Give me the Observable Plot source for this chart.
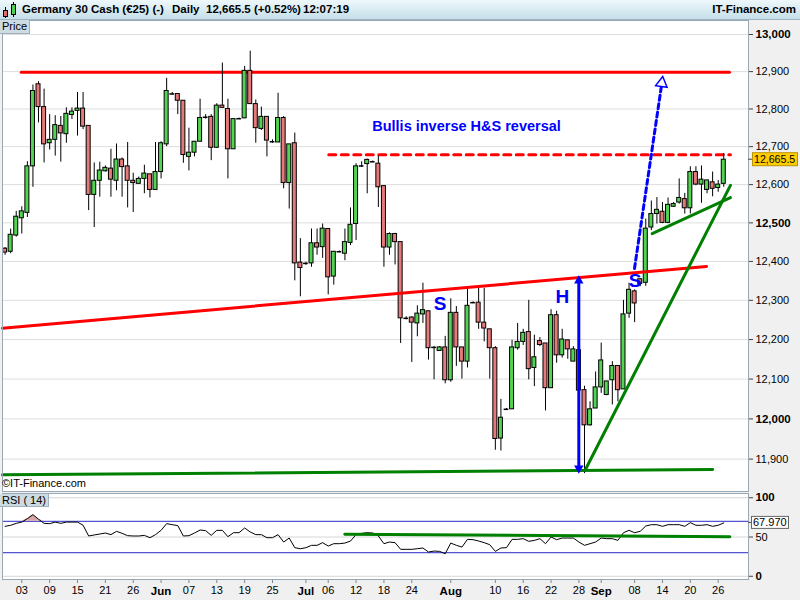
<!DOCTYPE html>
<html><head><meta charset="utf-8">
<script src="https://cdn.jsdelivr.net/npm/d3@7"></script>
<script src="https://cdn.jsdelivr.net/npm/@observablehq/plot@0.6"></script>
<style>
body{margin:0;background:#fff;font-family:"Liberation Sans",Arial,sans-serif;}
#wrap{position:relative;width:800px;height:600px;background:#f0f0f0;overflow:hidden;}
#title{position:absolute;left:0;top:0;width:800px;height:19px;background:linear-gradient(#eef8fb,#c6dfea);border-bottom:1px solid #9fb4c2;}
#title span{position:absolute;top:3px;font-size:11.5px;font-weight:bold;line-height:13px;white-space:nowrap;}
.lbl{position:absolute;left:0;background:#cddbe3;border-right:1px solid #9fb0bc;border-bottom:1px solid #9fb0bc;font-size:11px;line-height:13px;padding:0 2px;}
#copy{position:absolute;left:2px;top:477px;font-size:11px;line-height:12px;}
.panel{position:absolute;left:0;}
.panel svg{overflow:visible;}
</style></head>
<body>
<div id="wrap">
  <div id="title">
    <svg width="20" height="19" style="position:absolute;left:0;top:0">
      <line x1="5.5" y1="7" x2="5.5" y2="18" stroke="#000"/>
      <rect x="3.5" y="10.5" width="4" height="6" fill="#e06a6a" stroke="#000"/>
      <line x1="13.5" y1="2" x2="13.5" y2="17" stroke="#000"/>
      <rect x="11.5" y="4.5" width="4" height="10" fill="#4fd04f" stroke="#000"/>
    </svg>
    <span style="left:22px">Germany 30 Cash (€25) (-)</span>
    <span style="left:172px">Daily</span>
    <span style="left:206px">12,665.5 (+0.52%)</span>
    <span style="left:303px">12:07:19</span>
    <span style="right:4px">IT-Finance.com</span>
  </div>
  <div id="pricePanel" class="panel" style="top:20px"></div>
  <div class="lbl" style="top:20px;height:13px;">Price</div>
  <div id="copy">©IT-Finance.com</div>
  <div id="rsiPanel" class="panel" style="top:493px"></div>
  <div class="lbl" style="top:494px;height:12px;">RSI ( 14)</div>
</div>
<script>
// ---------- data ----------
const startDate = "2017-04-30";
const barCount = 130;
const dates = (() => { const out = []; let t = new Date(startDate + "T00:00:00Z").getTime();
  while (out.length < barCount) { const d = new Date(t); if (d.getUTCDay() !== 6) out.push(d.toISOString().slice(0,10)); t += 864e5; }
  return out; })();

const opens = [12433,12425,12467,12512,12526,12648,12866,12805,12709,12718,
12755,12733,12784,12795,12801,12755,12573,12610,12635,12642,
12610,12666,12648,12610,12602,12615,12627,12586,12633,12706,
12840,12840,12822,12673,12684,12713,12778,12779,12697,12809,
12800,12693,12774,12775,12902,12813,12747,12779,12713,12711,
12776,12604,12709,12397,12395,12395,12447,12437,12484,12361,
12425,12420,12448,12497,12649,12654,12660,12655,12596,12436,
12471,12450,12254,12256,12241,12264,12272,12180,12171,12180,
12097,12268,12180,12144,12294,12294,12243,12226,12178,11951,
12024,12024,12178,12194,12219,12128,12196,12190,12077,12262,
12160,12198,12144,12173,12072,11984,12026,12079,12060,12097,
12133,12074,12266,12323,12354,12345,12488,12523,12529,12500,
12542,12553,12562,12538,12633,12600,12586,12606,12591,12602];
const closes = [12423,12469,12516,12530,12648,12848,12805,12706,12718,12757,
12735,12787,12793,12801,12753,12573,12610,12637,12644,12613,
12666,12646,12610,12604,12615,12629,12586,12633,12709,12848,
12840,12822,12678,12684,12713,12776,12778,12697,12809,12803,
12693,12773,12774,12902,12813,12749,12779,12716,12713,12776,
12604,12706,12395,12383,12395,12447,12436,12485,12359,12425,
12425,12450,12495,12648,12649,12665,12660,12593,12436,12471,
12450,12254,12254,12243,12266,12275,12178,12180,12180,12097,
12268,12180,12144,12286,12294,12243,12228,12178,11950,12003,
12024,12180,12194,12217,12125,12155,12186,12077,12262,12160,
12200,12175,12175,12071,11984,12024,12079,12147,12094,12133,
12072,12264,12327,12292,12342,12485,12523,12534,12500,12547,
12549,12565,12538,12633,12600,12613,12611,12589,12600,12665.5];
const highs = [12436,12484,12530,12542,12660,12864,12873,12853,12785,12782,
12780,12803,12803,12844,12844,12755,12657,12659,12649,12693,
12707,12670,12711,12630,12620,12651,12627,12711,12713,12882,
12844,12840,12822,12749,12713,12826,12785,12785,12814,12923,
12826,12773,12776,12914,12955,12824,12805,12779,12718,12842,
12780,12706,12736,12459,12398,12484,12484,12497,12484,12425,
12427,12484,12539,12655,12660,12667,12662,12675,12596,12474,
12473,12450,12258,12258,12286,12344,12272,12182,12182,12208,
12304,12284,12180,12334,12296,12331,12331,12226,12182,12049,
12026,12198,12241,12226,12300,12211,12205,12190,12276,12272,
12226,12198,12182,12178,12082,12043,12118,12191,12094,12144,
12133,12300,12344,12327,12356,12510,12557,12566,12553,12565,
12553,12615,12577,12647,12647,12649,12611,12633,12611,12682];
const lows = [12416,12420,12463,12471,12514,12593,12763,12657,12691,12675,
12659,12709,12772,12728,12745,12532,12488,12567,12633,12567,
12584,12567,12539,12527,12602,12576,12565,12586,12615,12700,
12838,12785,12656,12636,12673,12713,12773,12663,12695,12803,
12615,12693,12772,12775,12813,12709,12743,12673,12709,12711,
12589,12536,12350,12309,12390,12385,12416,12408,12314,12339,
12423,12402,12441,12454,12645,12576,12658,12540,12385,12416,
12391,12190,12250,12142,12207,12241,12148,12098,12170,12088,
12092,12132,12100,12128,12292,12226,12194,12100,11922,11920,
12022,12024,12173,12185,12098,12081,12182,12020,12077,12140,
12153,12150,12144,12060,11864,11982,12026,12064,12058,12035,
12043,12074,12254,12243,12335,12336,12480,12497,12498,12498,
12540,12549,12523,12523,12597,12551,12576,12568,12580,12593];
const rsiValues = [63.6,64.9,67.4,69,73.4,78.5,72.6,67.4,67,69,
67.4,69,69,69,65,51.3,52.6,53.8,55.1,53,
57.2,54.7,51.7,51.3,51.3,52.1,49.1,53,58.5,67,
65.7,64.5,51.3,51.7,55.1,58.9,58.1,52.1,58.5,58.5,
50.4,55.5,55.5,61.5,56.4,53,53,49.1,49.1,53,
43.6,48.7,36.4,35.1,36.4,39.4,39.4,42.8,38.5,41.5,
41.5,42.3,44.9,53,54.7,55.5,55.1,51.3,41.5,43.6,
42.8,34.3,34.3,34.3,35.1,36,30.9,32.1,31.7,28.7,
42.3,39.4,37.2,47,46.6,44.9,42.8,40.2,31.7,36,
36.4,47,47,47.9,44.5,45.7,47.9,41.5,50,46.6,
48.7,48.7,48.7,43.6,39.4,41.5,43.6,48.7,47.9,47.9,
45.7,55.5,58.5,55.5,57.2,64,65.7,65.7,63.6,65.7,
65.7,65.7,63.6,68.3,64.9,64.9,65.7,63.6,64.9,67.97];

const priceTicks = [11900,12000,12100,12200,12300,12400,12500,12600,12700,12800,12900,13000];
const priceTicksBold = [12000,12500,13000];
const rsiTicks = [100,50,0];
const rsiTicksBold = [100,0];
const dayTicks = ["2017-05-03","2017-05-09","2017-05-15","2017-05-21","2017-05-26","2017-06-07","2017-06-13","2017-06-19","2017-06-25","2017-07-06","2017-07-12","2017-07-18","2017-07-24","2017-08-10","2017-08-16","2017-08-22","2017-08-28","2017-09-08","2017-09-14","2017-09-20","2017-09-26"];
const monthTicks = ["2017-06-01","2017-07-02","2017-08-01","2017-09-01"];

// annotation geometry in data units: [bar index, price]
const resistance = [[2.89,12898],[130.03,12898]];
const targetLevel = [[58.1,12678.5],[130.2,12678.5]];
const neckline = [[-0.465,12229],[125.9,12387]];
const support = [[-0.465,11861],[127.0,11874.5]];
const steepTrend = [[104.2,11875],[130.2,12598]];
const wedgeTrend = [[116.15,12472],[130.2,12566]];
const headHeight = [[102.98,12364],[102.98,11864]];
const targetPath = [[112.98,12382],[117.78,12858]];
const targetHead = [[117.88,12869]];
const rsiTrend = [[60.98,53.5],[130.1,50.3]];
const patternLabels = [[78.07,12291,"S"],[100.05,12308,"H"],[113.1,12349,"S"]];
const noteText = [[65.9,12753,"Bullis inverse H&S reversal"]];
const lastPrice = 12665.5;
const lastRsi = 67.97;

// ---------- build ----------
const idx = new Map(dates.map((d,i)=>[d,i]));
const candles = dates.map((d,i)=>({i, d, o:opens[i], h:highs[i], l:lows[i], c:closes[i]}));
const bodies = candles.filter(d=>d.o!==d.c);
const dojis = candles.filter(d=>d.o===d.c);
const rsiData = rsiValues.map((v,i)=>({i, v}));
const X = d=>d[0], Y = d=>d[1];
const xDomain = [-0.465, 133.44];
const font = "'Liberation Sans', Arial, sans-serif";
const GREEN = "#52d452", RED = "#e47a7a", BORDER = "#98a8b4";

const price = Plot.plot({
  width:800, height:471, marginTop:0, marginBottom:0, marginLeft:2, marginRight:52,
  style:{background:"transparent", fontFamily:font, fontSize:"11px", color:"#000"},
  x:{domain:xDomain, axis:null, label:null},
  y:{type:"log", domain:[11820,13038], axis:null, label:null},
  marks:[
    Plot.frame({fill:"white", stroke:"none"}),
    Plot.gridY(priceTicks, {stroke:"#dedede", strokeOpacity:1}),
    Plot.axisY(priceTicks.filter(t=>!priceTicksBold.includes(t)), {anchor:"right", tickSize:4, tickPadding:3, tickFormat:d3.format(","), stroke:"#444", fontSize:11, label:null}),
    Plot.axisY(priceTicksBold, {anchor:"right", tickSize:4, tickPadding:3, tickFormat:d3.format(","), stroke:"#444", fontSize:11.5, fontWeight:"bold", label:null}),
    Plot.line(resistance, {x:X, y:Y, stroke:"#ff0000", strokeWidth:3}),
    Plot.line(targetLevel, {x:X, y:Y, stroke:"#ff0000", strokeWidth:3, strokeDasharray:"7,5.5"}),
    Plot.text(noteText, {x:X, y:Y, text:d=>d[2], textAnchor:"start", fill:"#0000ff", fontSize:14.5, fontWeight:"bold"}),
    Plot.ruleX(candles, {x:"i", y1:"l", y2:"h", stroke:"#000", strokeWidth:1}),
    Plot.rect(bodies, {x1:d=>d.i-0.36, x2:d=>d.i+0.36, y1:"o", y2:"c", fill:d=>d.c>d.o?GREEN:RED, stroke:"#000", strokeWidth:1}),
    Plot.ruleY(dojis, {y:"c", x1:d=>d.i-0.42, x2:d=>d.i+0.42, stroke:"#000", strokeWidth:1.5}),
    Plot.line(neckline, {x:X, y:Y, stroke:"#ff0000", strokeWidth:3}),
    Plot.line(support, {x:X, y:Y, stroke:"#008000", strokeWidth:3}),
    Plot.line(steepTrend, {x:X, y:Y, stroke:"#008000", strokeWidth:3}),
    Plot.line(wedgeTrend, {x:X, y:Y, stroke:"#008000", strokeWidth:3}),
    Plot.ruleX([headHeight], {x:d=>d[0][0], y1:d=>d[0][1], y2:d=>d[1][1], stroke:"#0000ff", strokeWidth:3, insetTop:5, insetBottom:5}),
    Plot.dot([headHeight[0]], {x:X, y:Y, symbol:"triangle", r:3.5, fill:"#0000ff", stroke:"none", dy:5.4}),
    Plot.dot([headHeight[1]], {x:X, y:Y, symbol:"triangle", r:3.5, fill:"#0000ff", stroke:"none", rotate:180, dy:-5.4}),
    Plot.line(targetPath, {x:X, y:Y, stroke:"#0000ff", strokeWidth:3, strokeDasharray:"5,3.5"}),
    Plot.dot(targetHead, {x:X, y:Y, symbol:"triangle", r:4.3, fill:"white", stroke:"#0000ff", strokeWidth:1.5, rotate:8}),
    Plot.text(patternLabels, {x:X, y:Y, text:d=>d[2], fill:"#0000ff", fontSize:19, fontWeight:"bold"}),
    Plot.frame({stroke:BORDER})
  ]
});
document.getElementById("pricePanel").appendChild(price);

// current price marker on axis
{
  const yy = price.scale("y").apply(lastPrice);
  const g = d3.select(price).append("g").attr("text-anchor","start");
  g.append("line").attr("x1",748).attr("x2",752).attr("y1",yy).attr("y2",yy).attr("stroke","#444");
  g.append("rect").attr("x",752.5).attr("y",yy-6.5).attr("width",45).attr("height",13).attr("fill","#ffcc00").attr("stroke","#b89400");
  g.append("text").attr("x",754).attr("y",yy+4).attr("text-anchor","start").attr("font-size",10.6).attr("font-family",font).attr("fill","#000").text(d3.format(",.1f")(lastPrice));
}

const fmtMonth = d3.utcFormat("%b");
const rsi = Plot.plot({
  width:800, height:107, marginTop:0, marginBottom:21, marginLeft:2, marginRight:52,
  style:{background:"transparent", fontFamily:font, fontSize:"11px", color:"#000", overflow:"visible"},
  x:{domain:xDomain, axis:null, label:null},
  y:{domain:[-4.1,105.4], axis:null, label:null},
  marks:[
    Plot.frame({fill:"white", stroke:"none"}),
    Plot.ruleY(rsiTicks, {stroke:"#d6d6d6"}),
    Plot.ruleY([70,30], {stroke:"#2828c8"}),
    Plot.areaY(rsiData, {x:"i", y1:70, y2:d=>Math.max(70,d.v), fill:"#d8a6a6"}),
    Plot.line(rsiData, {x:"i", y:"v", stroke:"#000", strokeWidth:1}),
    Plot.line(rsiTrend, {x:X, y:Y, stroke:"#008000", strokeWidth:3}),
    Plot.axisY(rsiTicks.filter(t=>!rsiTicksBold.includes(t)), {anchor:"right", tickSize:4, tickPadding:3, stroke:"#444", fontSize:11, label:null}),
    Plot.axisY(rsiTicksBold, {anchor:"right", tickSize:4, tickPadding:3, stroke:"#444", fontSize:11.5, fontWeight:"bold", label:null}),
    Plot.axisX(dayTicks.map(d=>idx.get(d)), {anchor:"bottom", tickSize:4, tickPadding:3, stroke:"#7a8894", fontSize:11, tickFormat:i=>dates[i].slice(8,10), label:null}),
    Plot.axisX(monthTicks.map(d=>idx.get(d)), {anchor:"bottom", tickSize:4, tickPadding:3, stroke:"#7a8894", fontSize:11.5, fontWeight:"bold", tickFormat:i=>fmtMonth(new Date(dates[i]+"T00:00:00Z")), label:null}),
    Plot.frame({stroke:BORDER})
  ]
});
document.getElementById("rsiPanel").appendChild(rsi);

{
  const yy = rsi.scale("y").apply(lastRsi);
  const g = d3.select(rsi).append("g").attr("text-anchor","start");
  g.append("line").attr("x1",748).attr("x2",752).attr("y1",yy).attr("y2",yy).attr("stroke","#444");
  g.append("rect").attr("x",751.5).attr("y",yy-6).attr("width",37).attr("height",12).attr("fill","white").attr("stroke","#666");
  g.append("text").attr("x",753).attr("y",yy+4).attr("text-anchor","start").attr("font-size",11).attr("font-family",font).attr("fill","#000").text(d3.format(".3f")(lastRsi));
}
</script>
</body></html>
